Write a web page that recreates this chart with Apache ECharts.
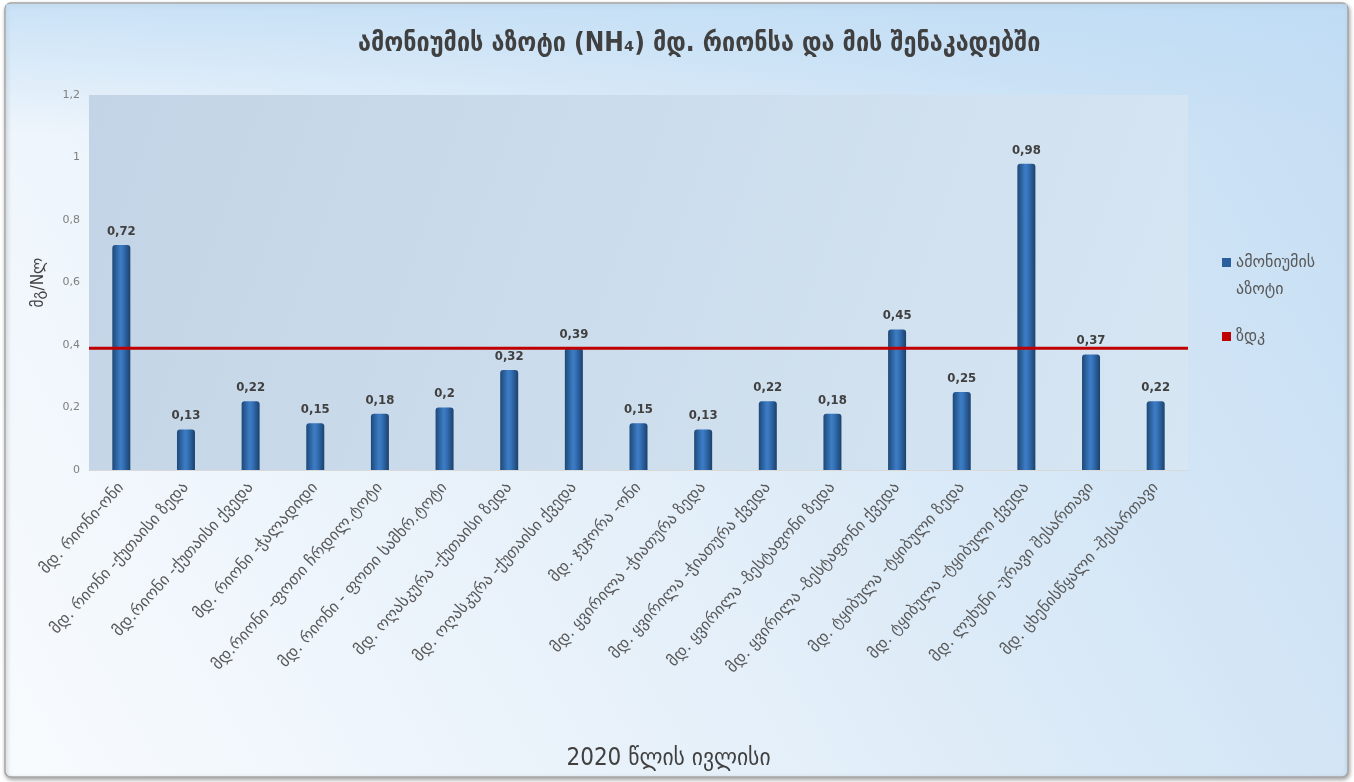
<!DOCTYPE html>
<html>
<head>
<meta charset="utf-8">
<script src="https://cdn.jsdelivr.net/npm/echarts@6/dist/echarts.min.js"></script>
<style>
  html, body { margin: 0; padding: 0; background: #ffffff; }
  #chart { width: 1354px; height: 782px; }
</style>
</head>
<body>
<div id="chart"></div>
<script>
// Sampling sites on the Rioni river and its tributaries
const categories = [
  'მდ. რიონი-ონი',
  'მდ. რიონი -ქუთაისი ზედა',
  'მდ.რიონი -ქუთაისი ქვედა',
  'მდ. რიონი -ჭალადიდი',
  'მდ.რიონი -ფოთი ჩრდილ.ტოტი',
  'მდ. რიონი - ფოთი სამხრ.ტოტი',
  'მდ. ოღასკურა -ქუთაისი ზედა',
  'მდ. ოღასკურა -ქუთაისი ქვედა',
  'მდ. ჯეჯორა -ონი',
  'მდ. ყვირილა -ჭიათურა ზედა',
  'მდ. ყვირილა -ჭიათურა ქვედა',
  'მდ. ყვირილა -ზესტაფონი ზედა',
  'მდ. ყვირილა -ზესტაფონი ქვედა',
  'მდ. ტყიბულა -ტყიბული ზედა',
  'მდ. ტყიბულა -ტყიბული ქვედა',
  'მდ. ლუხუნი -ურავი შესართავი',
  'მდ. ცხენისწყალი -შესართავი'
];

// Ammonium nitrogen, mg N/L (July 2020)
const ammoniumValues = [0.72, 0.13, 0.22, 0.15, 0.18, 0.2, 0.32, 0.39, 0.15, 0.13, 0.22, 0.18, 0.45, 0.25, 0.98, 0.37, 0.22];

// Maximum permissible concentration (ზდკ)
const limitValue = 0.39;
const limitValues = categories.map(() => limitValue);

const yTicks = { min: 0, max: 1.2, step: 0.2 };

const FONT = '"DejaVu Sans", "Noto Sans", sans-serif';
const FONT_COND = '"DejaVu Sans Condensed", "DejaVu Sans", sans-serif';
const comma = v => String(v).replace('.', ',');

const chart = echarts.init(document.getElementById('chart'), null, { renderer: 'canvas' });

const legendText = {
  fontFamily: FONT,
  fontSize: 16,
  color: '#595959',
  lineHeight: 27
};

// Tall legend icon whose visible square sits at the top, beside the first text line
const topSquareIcon = 'path://M0,0L9,0L9,9L0,9Z M0,35.95L0.02,35.95L0.02,36L0,36Z';

chart.setOption({
  animation: false,
  backgroundColor: 'transparent',
  graphic: [
    {
      type: 'rect',
      z: -10,
      shape: { x: 5, y: 3, width: 1343, height: 774, r: 6 },
      style: {
        fill: {
          type: 'linear', x: 0, y: 1, x2: 1, y2: 0,
          colorStops: [
            { offset: 0, color: '#f8fbfe' },
            { offset: 0.45, color: '#e4eff9' },
            { offset: 1, color: '#c4ddf3' }
          ]
        },
        stroke: '#a6a6a6',
        lineWidth: 1.5,
        shadowBlur: 4,
        shadowColor: 'rgba(0,0,0,0.35)',
        shadowOffsetX: 1,
        shadowOffsetY: 2
      }
    },
    {
      type: 'rect',
      z: -9,
      silent: true,
      shape: { x: 6, y: 4, width: 1341, height: 130 },
      style: {
        fill: {
          type: 'linear', x: 0, y: 0, x2: 0, y2: 1,
          colorStops: [
            { offset: 0, color: 'rgba(190,220,245,0.75)' },
            { offset: 1, color: 'rgba(190,220,245,0)' }
          ]
        }
      }
    }
  ],
  title: {
    text: 'ამონიუმის აზოტი (NH₄) მდ. რიონსა და მის შენაკადებში',
    left: 353,
    top: 26,
    textStyle: {
      fontFamily: FONT_COND,
      fontSize: 26,
      fontWeight: 'bold',
      color: '#404040'
    }
  },
  legend: [
    {
      orient: 'vertical',
      left: 1217,
      top: 244,
      itemWidth: 9,
      itemHeight: 36,
      icon: topSquareIcon,
      formatter: name => name.replace(' ', '\n'),
      textStyle: legendText,
      data: [{ name: 'ამონიუმის აზოტი', itemStyle: { color: '#2a5f9e' } }]
    },
    {
      orient: 'vertical',
      left: 1217,
      top: 318,
      itemWidth: 9,
      itemHeight: 9,
      icon: 'rect',
      textStyle: legendText,
      data: [{ name: 'ზდკ', itemStyle: { color: '#c00000' } }]
    }
  ],
  grid: {
    left: 89,
    right: 166,
    top: 95,
    bottom: 312,
    show: true,
    borderWidth: 0,
    backgroundColor: {
      type: 'linear', x: 0, y: 0, x2: 1, y2: 1,
      colorStops: [
        { offset: 0, color: '#c3d4e6' },
        { offset: 1, color: '#d6e6f3' }
      ]
    }
  },
  xAxis: [
    {
      type: 'category',
      data: categories,
      axisLine: { show: true, lineStyle: { color: '#d9d9d9', width: 1 } },
      axisTick: { show: false },
      axisLabel: {
        interval: 0,
        rotate: 48,
        margin: 15,
        fontFamily: FONT,
        fontSize: 16,
        color: '#595959'
      },
      name: '2020 წლის ივლისი',
      nameLocation: 'middle',
      nameGap: 277,
      nameTextStyle: {
        fontFamily: FONT_COND,
        fontSize: 24,
        color: '#404040',
        padding: [0, 0, 0, 60]
      }
    },
    {
      type: 'category',
      data: categories,
      boundaryGap: false,
      show: false
    }
  ],
  yAxis: {
    type: 'value',
    min: yTicks.min,
    max: yTicks.max,
    interval: yTicks.step,
    splitLine: { show: false },
    axisLine: { show: false },
    axisTick: { show: false },
    axisLabel: {
      margin: 9,
      fontFamily: FONT,
      fontSize: 11,
      color: '#7f7f7f',
      formatter: v => comma(+v.toFixed(1))
    },
    name: 'მგ/Nლ',
    nameLocation: 'middle',
    nameGap: 42,
    nameRotate: 90,
    nameTextStyle: {
      fontFamily: FONT_COND,
      fontSize: 17,
      color: '#404040'
    }
  },
  series: [
    {
      name: 'ამონიუმის აზოტი',
      type: 'bar',
      data: ammoniumValues,
      barWidth: 18,
      itemStyle: {
        color: {
          type: 'linear', x: 0, y: 0, x2: 1, y2: 0,
          colorStops: [
            { offset: 0, color: '#1d4878' },
            { offset: 0.45, color: '#3d7dc6' },
            { offset: 0.6, color: '#3572b8' },
            { offset: 1, color: '#1b416d' }
          ]
        },
        borderRadius: [3, 3, 0, 0]
      },
      label: {
        show: true,
        position: 'top',
        distance: 7,
        fontFamily: FONT_COND,
        fontSize: 13,
        fontWeight: 'bold',
        color: '#404040',
        formatter: p => comma(p.value)
      },
      z: 2
    },
    {
      name: 'ზდკ',
      type: 'line',
      xAxisIndex: 1,
      data: limitValues,
      symbol: 'none',
      lineStyle: { color: '#c00000', width: 3 },
      itemStyle: { color: '#c00000' },
      z: 3
    }
  ]
});
</script>
</body>
</html>
